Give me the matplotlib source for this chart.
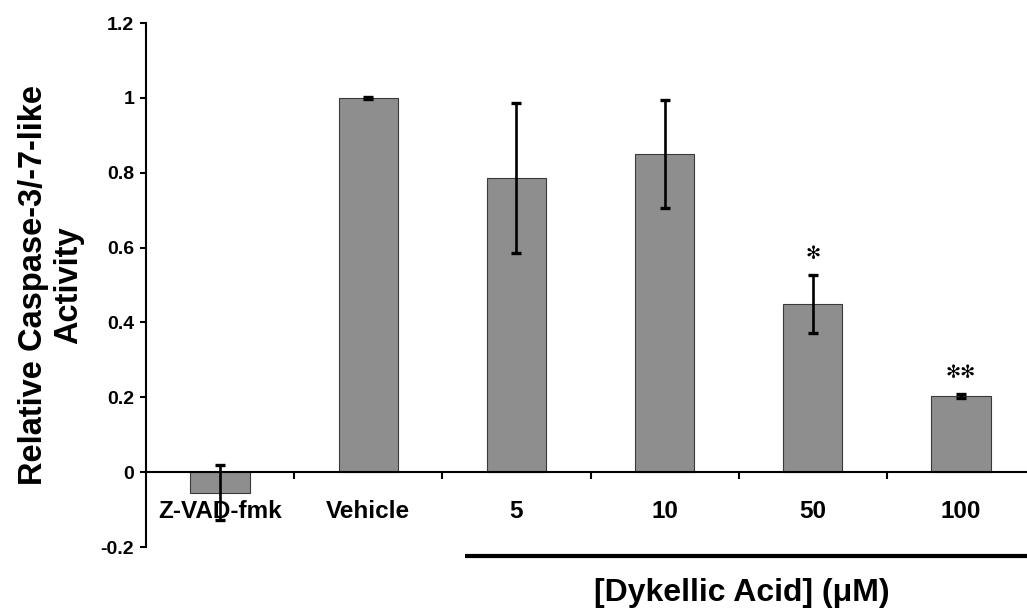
import numpy as np
import matplotlib
matplotlib.use("Agg")
import matplotlib.pyplot as plt

plt.rcParams['font.family'] = ['Liberation Sans', 'DejaVu Sans']

# data
categories = ["Z-VAD-fmk", "Vehicle", "5", "10", "50", "100"]
activity = [-0.055, 1.0, 0.786, 0.850, 0.449, 0.203]
errors = [0.073, 0.002, 0.200, 0.145, 0.077, 0.005]
stars = {"50": "✻", "100": "✻✻"}

fig = plt.figure(figsize=(10.27, 6.11), dpi=100)
ax = fig.add_axes([0.1422, 0.1047, 0.8656, 0.8576])

x = np.arange(len(categories))
ax.bar(x, activity, width=0.4, color='#8e8e8e', edgecolor='#3a3a3a',
       linewidth=0.8, zorder=2)
ax.errorbar(x, activity, yerr=errors, fmt='none', ecolor='black',
            elinewidth=1.9, capsize=3.5, capthick=2.4, zorder=4)

# significance marks
for i, cat in enumerate(categories):
    if cat in stars:
        ax.text(i, activity[i] + errors[i] + 0.058, stars[cat], ha='center',
                va='center', fontsize=13, family='DejaVu Sans', zorder=5)

ax.set_xlim(-0.5, 5.5)
ax.set_ylim(-0.2, 1.2)

# axes styling
for s in ['top', 'right']:
    ax.spines[s].set_visible(False)
ax.spines['bottom'].set_position(('data', 0))
ax.spines['bottom'].set_linewidth(1.5)
ax.spines['left'].set_linewidth(1.5)
ax.spines['left'].set_bounds(-0.2, 1.2)

ax.set_yticks(np.arange(-0.2, 1.21, 0.2))
ax.set_yticklabels(['-0.2', '0', '0.2', '0.4', '0.6', '0.8', '1', '1.2'])
ax.tick_params(axis='y', direction='out', length=4.5, width=1.5, pad=4,
               labelsize=14)
for lab in ax.get_yticklabels():
    lab.set_fontweight('bold')

ax.set_xticks(x)
ax.set_xticklabels([])
ax.set_xticks(np.arange(0.5, 5, 1.0), minor=True)
ax.tick_params(axis='x', which='major', length=0)
ax.tick_params(axis='x', which='minor', direction='out', length=5, width=1.5)

for i, cat in enumerate(categories):
    ax.text(i, -0.104, cat, ha='center', va='center', fontsize=17.5,
            fontweight='bold', zorder=3)

# bar under the dykellic acid doses
ax.plot([1.652, 5.6], [-0.2246, -0.2246], color='black', lw=3,
        solid_capstyle='butt', clip_on=False)

fig.text(742 / 1027, 1 - 593 / 611, "[Dykellic Acid] (μM)", ha='center',
         va='center', fontsize=23, fontweight='bold')
fig.text(51 / 1027, 1 - 285 / 611, "Relative Caspase-3/-7-like\nActivity",
         rotation=90, ha='center', va='center', multialignment='center',
         fontsize=23.5, fontweight='bold', linespacing=1.2)

fig.savefig("out.png", dpi=100)
